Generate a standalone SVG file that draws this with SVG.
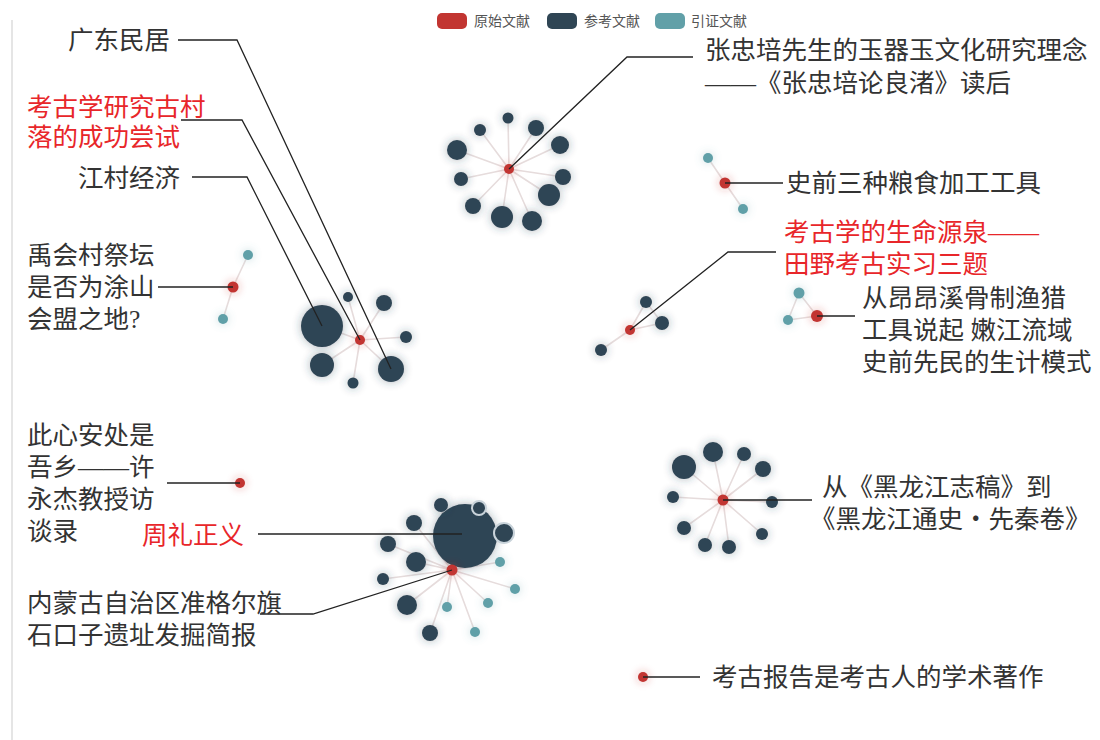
<svg xmlns="http://www.w3.org/2000/svg" width="1100" height="740" viewBox="0 0 1100 740">
<style>
.lbl{font-family:"Liberation Serif","Noto Sans CJK SC",serif;font-size:25.5px;fill:#333}
.red{fill:#e8262a}
.leg{font-family:"Liberation Sans","Noto Sans CJK SC",sans-serif;font-size:14px;fill:#555}
.edge{stroke:#e6dcdc;stroke-width:1.6;fill:none}
.lead{stroke:#222;stroke-width:1.3;fill:none}
.o{fill:#c23531}
.d{fill:#2f4554}
.t{fill:#61a0a8}
.n{filter:url(#glow)}
</style>
<defs>
<filter id="glow" x="-100%" y="-100%" width="300%" height="300%">
<feGaussianBlur in="SourceGraphic" stdDeviation="5" result="b"/>
<feComponentTransfer in="b" result="bl"><feFuncA type="linear" slope="0.4"/></feComponentTransfer>
<feMerge><feMergeNode in="bl"/><feMergeNode in="SourceGraphic"/></feMerge>
</filter>
</defs>
<rect width="1100" height="740" fill="#fff"/>
<line x1="12" y1="20" x2="12" y2="740" stroke="#ddd" stroke-width="1.5"/>

<g id="legend">
<rect x="437" y="13" width="30" height="16" rx="5" class="o"/>
<text x="474" y="26" class="leg">原始文献</text>
<rect x="547" y="13" width="30" height="16" rx="5" class="d"/>
<text x="584" y="26" class="leg">参考文献</text>
<rect x="655" y="13" width="30" height="16" rx="5" class="t"/>
<text x="691" y="26" class="leg">引证文献</text>
</g>

<g id="edges">
<path class="edge" d="M360 340L322 326M360 340L348 297M360 340L384 303M360 340L406 337M360 340L322 365M360 340L353 383M360 340L391 369"/>
<path class="edge" d="M509 169L508 118M509 169L480 130M509 169L536 128M509 169L457 150M509 169L560 145M509 169L461 179M509 169L563 177M509 169L549 195M509 169L473 206M509 169L502 217M509 169L532 221"/>
<path class="edge" d="M233 287L248 255M233 287L223 319"/>
<path class="edge" d="M725 183L708 158M725 183L743 209"/>
<path class="edge" d="M630 330L646 302M630 330L662 323M630 330L601 350M646 302L662 323"/>
<path class="edge" d="M817 316L799 293M817 316L788 320M799 293L788 320"/>
<path class="edge" d="M723 500L684 467M723 500L713 452M723 500L744 454M723 500L763 469M723 500L673 497M723 500L772 502M723 500L684 528M723 500L762 534M723 500L705 545M723 500L729 547"/>
<path class="edge" d="M452 570L465 535M452 570L441 505M452 570L479 508M452 570L414 523M452 570L504 533M452 570L388 544M452 570L416 562M452 570L500 562M452 570L383 579M452 570L515 589M452 570L407 605M452 570L447 607M452 570L488 603M452 570L430 633M452 570L475 632"/>
</g>

<g id="cluster-a">
<circle class="n d" cx="322" cy="326" r="21"/>
<circle class="n d" cx="348" cy="297" r="5"/>
<circle class="n d" cx="384" cy="303" r="8"/>
<circle class="n d" cx="406" cy="337" r="6"/>
<circle class="n d" cx="322" cy="365" r="12"/>
<circle class="n d" cx="353" cy="383" r="5.5"/>
<circle class="n d" cx="391" cy="369" r="13"/>
<circle class="n o" cx="360" cy="340" r="5"/>
</g>

<g id="cluster-b">
<circle class="n d" cx="508" cy="118" r="5.5"/>
<circle class="n d" cx="480" cy="130" r="6"/>
<circle class="n d" cx="536" cy="128" r="8"/>
<circle class="n d" cx="457" cy="150" r="10"/>
<circle class="n d" cx="560" cy="145" r="9"/>
<circle class="n d" cx="461" cy="179" r="7"/>
<circle class="n d" cx="563" cy="177" r="8"/>
<circle class="n d" cx="549" cy="195" r="11"/>
<circle class="n d" cx="473" cy="206" r="8"/>
<circle class="n d" cx="502" cy="217" r="11"/>
<circle class="n d" cx="532" cy="221" r="10"/>
<circle class="n o" cx="509" cy="169" r="5"/>
</g>

<g id="cluster-yuhui">
<circle class="n t" cx="248" cy="255" r="5"/>
<circle class="n t" cx="223" cy="319" r="5"/>
<circle class="n o" cx="233" cy="287" r="5.5"/>
</g>

<g id="cluster-shiqian">
<circle class="n t" cx="708" cy="158" r="5"/>
<circle class="n t" cx="743" cy="209" r="5"/>
<circle class="n o" cx="725" cy="183" r="5.5"/>
</g>

<g id="cluster-shengming">
<circle class="n d" cx="646" cy="302" r="6"/>
<circle class="n d" cx="662" cy="323" r="7"/>
<circle class="n d" cx="601" cy="350" r="6"/>
<circle class="n o" cx="630" cy="330" r="5"/>
</g>

<g id="cluster-angangxi">
<circle class="n t" cx="799" cy="293" r="5.5"/>
<circle class="n t" cx="788" cy="320" r="5"/>
<circle class="n o" cx="817" cy="316" r="6"/>
</g>

<g id="cluster-heilongjiang">
<circle class="n d" cx="684" cy="467" r="12"/>
<circle class="n d" cx="713" cy="452" r="10"/>
<circle class="n d" cx="744" cy="454" r="7"/>
<circle class="n d" cx="763" cy="469" r="8"/>
<circle class="n d" cx="673" cy="497" r="6"/>
<circle class="n d" cx="772" cy="502" r="6"/>
<circle class="n d" cx="684" cy="528" r="7"/>
<circle class="n d" cx="762" cy="534" r="6"/>
<circle class="n d" cx="705" cy="545" r="7"/>
<circle class="n d" cx="729" cy="547" r="7"/>
<circle class="n o" cx="723" cy="500" r="5.5"/>
</g>

<g id="cluster-xin">
<circle class="n o" cx="240" cy="483" r="5"/>
</g>

<g id="cluster-zhouli">
<circle class="n d" cx="465" cy="536" r="32"/>
<circle class="n d" cx="441" cy="505" r="7"/>
<circle class="d" cx="479" cy="508" r="7" stroke="#c9d3da" stroke-width="2"/>
<circle class="d" cx="504" cy="533" r="10" stroke="#c9d3da" stroke-width="2"/>
<circle class="n d" cx="414" cy="523" r="8"/>
<circle class="n d" cx="388" cy="544" r="8"/>
<circle class="n d" cx="416" cy="562" r="10"/>
<circle class="n t" cx="500" cy="562" r="5"/>
<circle class="n d" cx="383" cy="579" r="6"/>
<circle class="n t" cx="515" cy="589" r="5"/>
<circle class="n d" cx="407" cy="605" r="10"/>
<circle class="n t" cx="447" cy="607" r="5"/>
<circle class="n t" cx="488" cy="603" r="5"/>
<circle class="n d" cx="430" cy="633" r="8"/>
<circle class="n t" cx="475" cy="632" r="5"/>
<circle class="n o" cx="452" cy="570" r="5.5"/>
</g>

<g id="cluster-baogao">
<circle class="n o" cx="643" cy="677" r="5"/>
</g>

<g id="leaders">
<polyline class="lead" points="178,40 237,40 391,369"/>
<polyline class="lead" points="181,120 242,120 360,340"/>
<polyline class="lead" points="192,177 247,177 322,326"/>
<polyline class="lead" points="158,287 233,287"/>
<polyline class="lead" points="509,169 627,57 693,57"/>
<polyline class="lead" points="725,183 783,183"/>
<polyline class="lead" points="630,330 728,252 776,252"/>
<polyline class="lead" points="817,316 855,316"/>
<polyline class="lead" points="723,500 812,500"/>
<polyline class="lead" points="167,483 240,483"/>
<polyline class="lead" points="258,534 462,534"/>
<polyline class="lead" points="260,614 313,614 452,570"/>
<polyline class="lead" points="643,677 700,677"/>
</g>

<g id="labels">
<text class="lbl" x="68" y="49">广东民居</text>
<text class="lbl red" x="27" y="116">考古学研究古村</text>
<text class="lbl red" x="27" y="146">落的成功尝试</text>
<text class="lbl" x="78" y="187">江村经济</text>
<text class="lbl" x="27" y="264">禹会村祭坛</text>
<text class="lbl" x="27" y="296">是否为涂山</text>
<text class="lbl" x="27" y="328">会盟之地?</text>
<text class="lbl" x="27" y="444">此心安处是</text>
<text class="lbl" x="27" y="476">吾乡——许</text>
<text class="lbl" x="27" y="508">永杰教授访</text>
<text class="lbl" x="27" y="540">谈录</text>
<text class="lbl red" x="142" y="544">周礼正义</text>
<text class="lbl" x="27" y="612">内蒙古自治区准格尔旗</text>
<text class="lbl" x="27" y="644">石口子遗址发掘简报</text>
<text class="lbl" x="705" y="59">张忠培先生的玉器玉文化研究理念</text>
<text class="lbl" x="705" y="92">——《张忠培论良渚》读后</text>
<text class="lbl" x="786" y="192">史前三种粮食加工工具</text>
<text class="lbl red" x="784" y="241">考古学的生命源泉——</text>
<text class="lbl red" x="784" y="273">田野考古实习三题</text>
<text class="lbl" x="862" y="307">从昂昂溪骨制渔猎</text>
<text class="lbl" x="862" y="339">工具说起 嫩江流域</text>
<text class="lbl" x="862" y="371">史前先民的生计模式</text>
<text class="lbl" x="822" y="496">从《黑龙江志稿》到</text>
<text class="lbl" x="810" y="528">《黑龙江通史・先秦卷》</text>
<text class="lbl" x="712" y="686">考古报告是考古人的学术著作</text>
</g>
</svg>
